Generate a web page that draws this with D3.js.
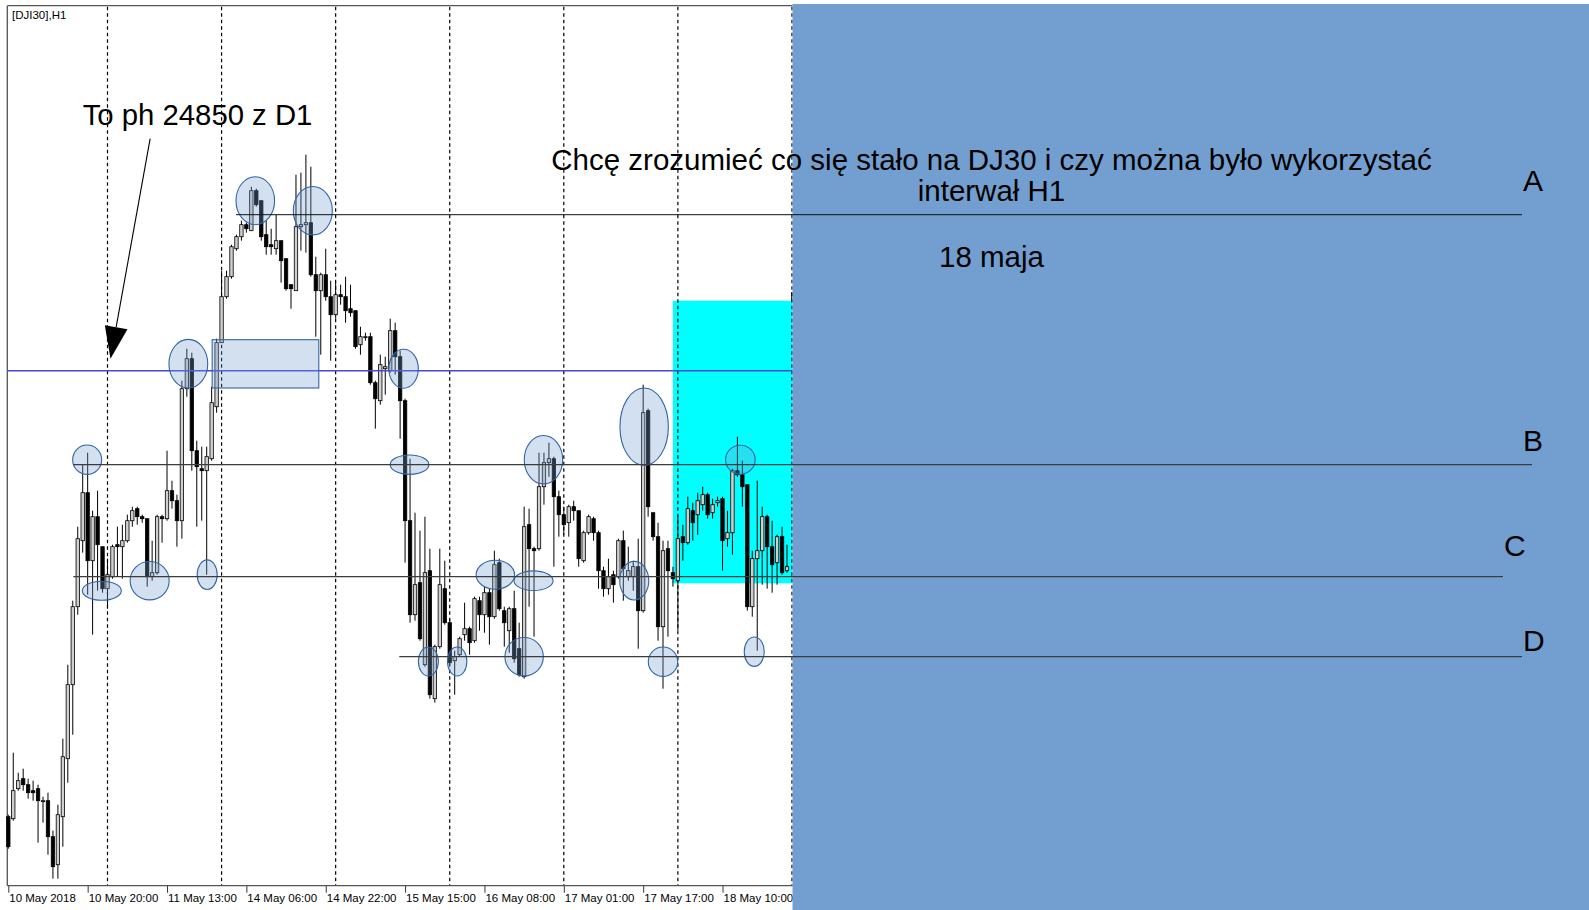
<!DOCTYPE html>
<html>
<head>
<meta charset="utf-8">
<script src="https://cdn.jsdelivr.net/npm/d3@7"></script>
<style>
  html, body { margin: 0; padding: 0; background: #fff; }
  svg { display: block; }
</style>
</head>
<body>
<div id="chart"></div>
<script>
// DJI30 H1 candles (bar 0 = 10 May 2018)
var opens = [24627,24626,24641,24646,24643,24640,24641,24635,24635,24617,24603,24627,24656,24693,24732,24765,24789,24755,24777,24762,
  24741,24747,24763,24762,24765,24775,24781,24777,24776,24747,24749,24777,24776,24790,24785,24775,24841,24856,24810,24801,
  24800,24806,24832,24864,24887,24897,24911,24917,24923,24920,24940,24935,24918,24913,24911,24915,24906,24893,24890,24922,
  24923,24924,24898,24890,24898,24887,24878,24888,24887,24881,24880,24863,24867,24867,24844,24835,24851,24850,24870,24857,
  24835,24775,24728,24744,24703,24750,24686,24712,24741,24724,24705,24708,24718,24721,24715,24735,24728,24739,24727,24754,
  24730,24720,24731,24711,24697,24773,24761,24761,24792,24804,24806,24787,24778,24774,24782,24780,24755,24769,24776,24769,
  24750,24741,24748,24747,24765,24747,24747,24752,24730,24830,24779,24767,24722,24761,24749,24745,24767,24764,24780,24778,
  24783,24788,24779,24784,24786,24766,24769,24800,24798,24793,24732,24756,24760,24777,24762,24754,24767,24750];
var highs = [24628,24659,24649,24651,24646,24645,24643,24637,24639,24620,24633,24666,24703,24735,24772,24803,24809,24780,24790,24762,
  24756,24763,24772,24773,24778,24782,24782,24778,24776,24765,24778,24778,24810,24795,24788,24845,24861,24859,24815,24812,
  24812,24842,24866,24900,24900,24913,24918,24925,24924,24942,24941,24935,24925,24921,24928,24915,24906,24893,24948,24949,
  24958,24952,24907,24899,24911,24895,24894,24893,24897,24893,24880,24872,24869,24869,24845,24858,24857,24876,24874,24860,
  24836,24806,24779,24770,24777,24761,24713,24761,24755,24726,24710,24717,24734,24722,24737,24737,24742,24741,24760,24756,
  24732,24732,24740,24724,24782,24781,24762,24809,24809,24814,24807,24790,24782,24783,24785,24780,24770,24778,24777,24770,
  24752,24756,24750,24766,24770,24762,24755,24766,24843,24831,24779,24774,24765,24765,24752,24778,24773,24787,24784,24789,
  24792,24789,24786,24787,24787,24780,24801,24817,24805,24793,24760,24795,24782,24778,24775,24768,24772,24763];
var lows = [24611,24625,24640,24640,24636,24635,24614,24624,24608,24596,24596,24612,24644,24668,24728,24759,24738,24718,24740,24739,
  24731,24746,24747,24746,24764,24772,24773,24774,24742,24745,24748,24764,24775,24781,24762,24766,24837,24800,24772,24775,
  24748,24805,24829,24864,24886,24896,24910,24915,24919,24920,24932,24915,24908,24908,24908,24894,24890,24881,24890,24910,
  24909,24897,24867,24858,24885,24855,24876,24883,24874,24877,24861,24858,24865,24843,24821,24833,24838,24849,24848,24816,
  24754,24724,24725,24715,24702,24686,24684,24711,24723,24703,24688,24707,24715,24708,24714,24720,24719,24713,24726,24730,
  24712,24709,24704,24697,24696,24732,24717,24760,24783,24797,24752,24767,24768,24767,24775,24752,24754,24768,24765,24741,
  24737,24738,24734,24746,24735,24745,24740,24711,24729,24777,24765,24715,24691,24717,24742,24720,24755,24763,24765,24768,
  24780,24776,24776,24782,24750,24762,24758,24797,24782,24730,24727,24710,24743,24741,24739,24743,24748,24749];
var closes = [24612,24640,24645,24643,24639,24639,24635,24635,24617,24602,24628,24657,24693,24732,24766,24789,24755,24777,24763,24741,
  24748,24762,24762,24765,24775,24780,24777,24776,24747,24749,24777,24776,24790,24785,24775,24841,24856,24810,24802,24800,
  24807,24834,24864,24887,24897,24912,24917,24923,24921,24940,24933,24917,24912,24912,24915,24905,24891,24891,24922,24923,
  24924,24898,24890,24898,24887,24878,24888,24887,24880,24879,24862,24867,24867,24844,24836,24853,24852,24870,24857,24835,
  24775,24728,24743,24716,24749,24688,24712,24743,24724,24704,24707,24716,24721,24714,24736,24728,24739,24727,24753,24731,
  24724,24731,24706,24698,24772,24761,24760,24792,24804,24806,24787,24778,24773,24782,24780,24756,24769,24777,24769,24750,
  24741,24747,24743,24765,24751,24750,24752,24730,24829,24782,24767,24722,24760,24750,24746,24766,24764,24781,24774,24785,
  24788,24778,24783,24785,24765,24769,24800,24798,24792,24732,24756,24760,24777,24762,24753,24767,24749,24752];

// Time axis: label every 16 bars, day separators
var tickBars = [0, 16, 32, 48, 64, 80, 96, 112, 128, 144];
var tickLabels = ["10 May 2018", "10 May 20:00", "11 May 13:00", "14 May 06:00", "14 May 22:00",
  "15 May 15:00", "16 May 08:00", "17 May 01:00", "17 May 17:00", "18 May 10:00"];
var dayStartBars = [20, 43, 66, 89, 112, 135, 158];

// Horizontal levels
var phPrice = 24850;
var levelNames = ["A", "B", "C", "D"];
var levelPrices = [24928, 24803, 24747, 24707];

// Marked places (bar, price)
var markBars = [49.8, 61.4, 15.9, 18.85, 28.5, 40.1, 36.3, 79.7, 80.9, 84.7, 90.5, 98.2, 105.9, 104.0, 107.9, 128.2, 126.2, 132.0, 147.6, 150.4];
var markPrices = [24935, 24930, 24805.5, 24740, 24745, 24748, 24853.5, 24851, 24803, 24704.6, 24704.6, 24748, 24745, 24707, 24805.5, 24822, 24745, 24704.5, 24805.5, 24709.5];
var markRx = [19.3, 19.5, 14.5, 19.5, 19.5, 10, 19.4, 14.7, 19.3, 10, 9.7, 19.2, 19.5, 19.2, 19.2, 24.2, 14.5, 14.7, 14.8, 10];
var markRy = [24, 24.2, 14.7, 9.5, 19.2, 14.8, 24.3, 19.5, 9.7, 14.5, 14.5, 14.5, 9.8, 19.2, 24.2, 38.7, 19.3, 14.7, 14.5, 14.7];

var width = 1589, height = 910;
var fontFamily = "'Liberation Sans', Arial, sans-serif";
var panelBlue = "#729fcf";
var markStroke = "#3465a4";

var svg = d3.select("#chart").append("svg")
  .attr("width", width)
  .attr("height", height)
  .style("background", "#fff");

// Scales
var x = d3.scaleLinear().domain([0, 157]).range([8.3, 787.0]);
var y = d3.scaleLinear().domain([24592.5, 25032.5]).range([885.7, 5.7]);

var plotLeft = 7.3, plotTop = 5.7, plotBottom = 885.7, plotRight = 792.5;

// Cyan zone behind candles
svg.append("rect")
  .attr("x", x(134)).attr("y", y(24885))
  .attr("width", plotRight - x(134)).attr("height", y(24743.7) - y(24885))
  .attr("fill", "#00ffff");

// Frame
svg.append("line").attr("x1", plotLeft).attr("x2", plotLeft).attr("y1", plotTop).attr("y2", plotBottom)
  .attr("stroke", "#555").attr("stroke-width", 1.3);
svg.append("line").attr("x1", plotLeft).attr("x2", plotRight).attr("y1", plotTop).attr("y2", plotTop)
  .attr("stroke", "#555").attr("stroke-width", 1.3);

// Day separators
svg.selectAll("line.day")
  .data(dayStartBars)
  .enter().append("line")
  .attr("class", "day")
  .attr("x1", function(d){ return x(d); })
  .attr("x2", function(d){ return x(d); })
  .attr("y1", plotTop + 1).attr("y2", plotBottom)
  .attr("stroke", "#000").attr("stroke-width", 1.2)
  .attr("stroke-dasharray", "3.5,3");

// Candles
var candles = opens.map(function(o, i){
  return { i: i, o: o, h: highs[i], l: lows[i], c: closes[i] };
});

var g = svg.append("g");
g.selectAll("line.wick")
  .data(candles)
  .enter().append("line")
  .attr("class", "wick")
  .attr("x1", function(d){ return x(d.i); })
  .attr("x2", function(d){ return x(d.i); })
  .attr("y1", function(d){ return y(d.h); })
  .attr("y2", function(d){ return y(d.l); })
  .attr("stroke", "#000").attr("stroke-width", 1);

g.selectAll("rect.body")
  .data(candles)
  .enter().append("rect")
  .attr("class", "body")
  .attr("x", function(d){ return x(d.i) - 1.7; })
  .attr("width", 3.4)
  .attr("y", function(d){ return y(Math.max(d.o, d.c)); })
  .attr("height", function(d){ return Math.max(1, y(Math.min(d.o, d.c)) - y(Math.max(d.o, d.c))); })
  .attr("fill", function(d){ return d.c >= d.o ? "#cfcfcf" : "#000"; })
  .attr("stroke", "#000").attr("stroke-width", 0.8);

// The 24850 line
svg.append("line")
  .attr("x1", plotLeft).attr("x2", plotRight)
  .attr("y1", y(phPrice)).attr("y2", y(phPrice))
  .attr("stroke", "#4848d6").attr("stroke-width", 1.5);

// Box around the level
svg.append("rect")
  .attr("x", x(41.1)).attr("y", y(24865.5))
  .attr("width", x(62.6) - x(41.1)).attr("height", y(24841.35) - y(24865.5))
  .attr("fill", panelBlue).attr("fill-opacity", 0.32)
  .attr("stroke", markStroke).attr("stroke-width", 1.1);

// Ellipses
svg.selectAll("ellipse.mark")
  .data(markBars)
  .enter().append("ellipse")
  .attr("class", "mark")
  .attr("cx", function(d){ return x(d); })
  .attr("cy", function(d, i){ return y(markPrices[i]); })
  .attr("rx", function(d, i){ return markRx[i]; })
  .attr("ry", function(d, i){ return markRy[i]; })
  .attr("fill", panelBlue).attr("fill-opacity", 0.32)
  .attr("stroke", markStroke).attr("stroke-width", 1.1);

// Time axis
var axis = d3.axisBottom(x)
  .tickValues(tickBars)
  .tickFormat(function(d, i){ return tickLabels[i]; })
  .tickSize(7);

var ax = svg.append("g")
  .attr("transform", "translate(0," + plotBottom + ")")
  .call(axis);
ax.select(".domain").remove();
ax.selectAll(".tick line").attr("stroke", "#333");
ax.selectAll(".tick text")
  .attr("text-anchor", "start")
  .attr("x", 0.5)
  .attr("y", 8)
  .attr("fill", "#000")
  .style("font-family", fontFamily)
  .style("font-size", "11.5px");
svg.append("line").attr("x1", plotLeft).attr("x2", plotRight).attr("y1", plotBottom).attr("y2", plotBottom)
  .attr("stroke", "#555").attr("stroke-width", 1.3);

// Symbol caption
svg.append("text")
  .attr("x", 12).attr("y", 18.5)
  .style("font-family", fontFamily).style("font-size", "11.5px")
  .text("[DJI30],H1");

// Blue panel on the right
svg.append("rect")
  .attr("x", plotRight).attr("y", 4)
  .attr("width", width - plotRight).attr("height", height - 4)
  .attr("fill", panelBlue);
svg.append("line").attr("x1", 791.7).attr("x2", 791.7).attr("y1", 292).attr("y2", 301)
  .attr("stroke", "#000").attr("stroke-width", 1);

// Levels A-D, running across the panel
var levelStarts = [236, 73.3, 73.3, 399.3];
var levelEnds = [1522, 1532, 1503, 1522];
var labelX = [1523, 1523, 1504, 1523];
var labelDy = [-23.8, -13.7, -20.7, -5.4];

levelPrices.forEach(function(p, i){
  svg.append("line")
    .attr("x1", levelStarts[i]).attr("x2", levelEnds[i])
    .attr("y1", y(p)).attr("y2", y(p))
    .attr("stroke", i === 0 ? "#111" : "#3c3c3c").attr("stroke-width", i === 0 ? 1 : 1.3);
  svg.append("text")
    .attr("x", labelX[i]).attr("y", y(p) + labelDy[i])
    .style("font-family", fontFamily).style("font-size", "30px")
    .text(levelNames[i]);
});

// Arrow to the D1 high
var ax0 = x(28.6), ay0 = y(24966), ax1 = x(20.6), ay1 = y(24856);
var len = Math.hypot(ax1 - ax0, ay1 - ay0);
var ux = (ax1 - ax0) / len, uy = (ay1 - ay0) / len;
var headLen = 32, headHalf = 11.5;
var bx = ax1 - ux * headLen, by = ay1 - uy * headLen;
svg.append("line")
  .attr("x1", ax0).attr("y1", ay0).attr("x2", bx).attr("y2", by)
  .attr("stroke", "#000").attr("stroke-width", 1.1);
svg.append("polygon")
  .attr("points", [
    [ax1, ay1],
    [bx - uy * headHalf, by + ux * headHalf],
    [bx + uy * headHalf, by - ux * headHalf]
  ].map(function(p){ return p.join(","); }).join(" "))
  .attr("fill", "#000");

// Texts
svg.append("text")
  .attr("x", 82.7).attr("y", 125)
  .style("font-family", fontFamily).style("font-size", "29.3px")
  .text("To ph " + phPrice + " z D1");

var title = svg.append("text")
  .attr("text-anchor", "middle")
  .style("font-family", fontFamily).style("font-size", "29.5px");
title.append("tspan").attr("x", 991.5).attr("y", 170)
  .text("Chcę zrozumieć co się stało na DJ30 i czy można było wykorzystać");
title.append("tspan").attr("x", 991.5).attr("y", 200.5)
  .text("interwał H1");

svg.append("text")
  .attr("x", 991.5).attr("y", 266.5)
  .attr("text-anchor", "middle")
  .style("font-family", fontFamily).style("font-size", "29.5px")
  .text("18 maja");
</script>
</body>
</html>
